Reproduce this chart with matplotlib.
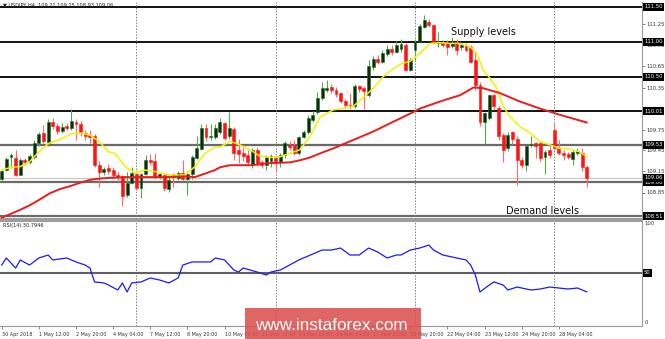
import numpy as np
import matplotlib
matplotlib.use("Agg")
import matplotlib.pyplot as plt
from matplotlib.transforms import blended_transform_factory
from matplotlib.patches import Rectangle

# ---------------- data ----------------
opens = [109.05,109.17,109.36,109.34,109.10,109.32,109.28,109.36,109.56,109.70,
         109.56,109.86,109.80,109.73,109.80,109.77,109.86,109.83,109.70,109.67,
         109.65,109.24,109.14,109.20,109.17,109.10,109.08,108.81,108.99,109.11,
         108.91,109.12,109.31,109.30,109.07,109.10,108.90,109.10,109.06,109.13,
         109.05,109.11,109.35,109.47,109.77,109.64,109.64,109.72,109.84,109.66,
         109.76,109.45,109.42,109.39,109.25,109.45,109.28,109.24,109.30,109.34,
         109.28,109.38,109.53,109.53,109.41,109.64,109.72,109.89,110.00,110.20,
         110.32,110.35,110.32,110.27,110.16,110.10,110.09,110.37,110.34,110.24,
         110.64,110.76,110.72,110.83,110.90,110.86,110.90,110.95,110.60,110.88,
         111.00,111.22,111.28,111.24,110.98,111.00,110.98,110.94,111.00,110.93,
         110.95,110.93,110.74,110.39,109.86,109.91,110.24,110.05,109.67,109.48,
         109.71,109.62,109.31,109.24,109.53,109.55,109.56,109.36,109.45,109.74,
         109.48,109.42,109.40,109.33,109.42,109.41,109.21]
highs = [109.18,109.36,109.42,109.46,109.35,109.35,109.40,109.60,109.72,109.81,
         109.90,109.91,109.84,109.84,109.84,110.04,109.90,109.87,109.75,109.74,
         109.68,109.30,109.22,109.26,109.22,109.14,109.10,109.14,109.21,109.13,
         109.13,109.39,109.40,109.41,109.13,109.13,109.10,109.13,109.16,109.31,
         109.15,109.39,109.65,109.83,109.83,109.83,109.83,109.91,109.86,110.00,
         109.78,109.62,109.50,109.45,109.48,109.50,109.32,109.38,109.40,109.37,
         109.42,109.58,109.58,109.60,109.66,109.75,109.96,110.01,110.29,110.43,
         110.45,110.40,110.36,110.29,110.19,110.27,110.40,110.39,110.37,110.74,
         110.80,110.82,110.88,110.95,110.96,111.02,111.05,110.98,110.77,111.05,
         111.26,111.39,111.33,111.26,111.14,111.03,111.03,111.07,111.05,110.98,
         110.99,110.95,110.84,110.43,110.00,110.26,110.26,110.08,109.70,109.72,
         109.73,109.65,109.36,109.53,109.66,109.57,109.57,109.45,109.55,109.84,
         109.60,109.45,109.43,109.45,109.48,109.48,109.25]
lows = [109.02,109.15,109.20,109.08,109.10,109.25,109.26,109.33,109.52,109.56,
        109.52,109.76,109.68,109.70,109.74,109.74,109.60,109.66,109.60,109.56,
        109.22,108.93,109.10,109.12,109.05,109.00,108.65,108.79,108.98,108.88,
        108.77,109.10,109.25,109.04,109.05,108.87,108.86,108.93,109.03,109.03,
        108.81,109.05,109.33,109.45,109.58,109.60,109.62,109.68,109.60,109.62,
        109.31,109.27,109.30,109.24,109.20,109.23,109.20,109.17,109.22,109.16,
        109.22,109.35,109.46,109.38,109.39,109.63,109.69,109.86,109.97,110.17,
        110.28,110.27,110.22,110.13,110.06,110.05,110.06,110.28,110.05,110.21,
        110.60,110.68,110.70,110.80,110.82,110.84,110.86,110.58,110.58,110.74,
        110.98,111.20,111.21,110.98,110.93,110.93,110.81,110.91,110.81,110.88,
        110.86,110.70,110.31,109.80,109.55,109.88,110.03,109.60,109.29,109.44,
        109.55,108.96,109.20,109.15,109.50,109.34,109.30,109.12,109.35,109.46,
        109.38,109.31,109.33,109.24,109.38,109.15,108.93]
closes = [109.15,109.33,109.38,109.10,109.32,109.29,109.37,109.56,109.68,109.58,
          109.86,109.80,109.73,109.79,109.77,109.87,109.83,109.70,109.65,109.64,
          109.24,109.14,109.18,109.16,109.10,109.07,108.80,108.98,109.13,108.91,
          109.11,109.31,109.28,109.07,109.11,108.91,109.03,109.07,109.13,109.05,
          109.12,109.36,109.49,109.77,109.64,109.66,109.77,109.86,109.63,109.77,
          109.41,109.40,109.37,109.29,109.46,109.27,109.24,109.36,109.37,109.27,
          109.39,109.55,109.50,109.41,109.64,109.72,109.91,109.96,110.20,110.34,
          110.35,110.31,110.25,110.15,110.10,110.08,110.37,110.33,110.30,110.65,
          110.76,110.72,110.84,110.90,110.86,110.96,110.97,110.60,110.74,111.00,
          111.23,111.31,111.24,110.99,111.00,110.95,110.93,110.99,110.89,110.95,
          110.89,110.72,110.39,109.86,109.98,110.24,110.08,109.65,109.46,109.67,
          109.62,109.31,109.24,109.51,109.54,109.51,109.34,109.43,109.39,109.48,
          109.41,109.38,109.36,109.43,109.44,109.22,109.06]

ma_fast_idx = [0,2,4,6,8,10,13,15,17,19,21,23,24.4,26.6,28.7,30.9,33,35.2,37.3,39.5,
               41.6,43.8,45.9,47,49.2,51.3,53.5,55.6,57.8,59.9,62.1,64.2,66.4,68.6,
               71.4,73.5,75.7,77.8,80,82.1,84.3,86.4,87.9,90.1,92.2,94.4,96.5,98.7,
               100.9,102.3,103.7,105.2,106.6,108,109.5,111.6,113.8,115.9,118.1,120.2,
               122.4,124.5,126]
ma_fast_val = [109.17,109.21,109.22,109.29,109.43,109.55,109.62,109.69,109.70,109.67,
               109.58,109.43,109.41,109.22,109.13,109.17,109.15,109.11,109.10,109.10,
               109.22,109.41,109.50,109.50,109.58,109.53,109.46,109.37,109.35,109.36,
               109.41,109.46,109.65,109.93,110.03,110.05,110.08,110.20,110.34,110.50,
               110.62,110.70,110.72,110.84,110.98,110.99,110.98,110.98,110.93,110.84,
               110.60,110.48,110.34,110.08,109.93,109.79,109.70,109.58,109.53,109.48,
               109.47,109.43,109.36]
ma_slow_idx = [0,3.9,6.1,8.2,10.4,12.6,14.7,16.9,19,21.2,23.3,26.6,30.9,35.2,39.5,41.6,
               43.8,45.9,47,49.2,53.5,57.8,62.1,64.2,66.4,68.6,71.4,75.7,80,84.3,88.7,
               90.1,94.4,98.7,101.6,103.7,107.3,111.6,115.9,120.2,126]
ma_slow_val = [108.49,108.60,108.67,108.75,108.84,108.90,108.94,108.99,109.03,109.05,
               109.06,109.07,109.07,109.07,109.08,109.07,109.12,109.17,109.21,109.24,
               109.24,109.27,109.28,109.31,109.35,109.41,109.48,109.60,109.72,109.86,
               110.00,110.05,110.15,110.24,110.35,110.34,110.27,110.15,110.05,109.96,
               109.85]

rsi_idx = [0,1,3,4,6,8,10,11,14,16,18,19,20,22,23,25,26,27,28,30,32,34,36,38,39,41,43,
           45,46,48,50,51,52,55,57,58,60,62,64,66,69,71,73,75,77,79,81,83,85,86,88,90,
           92,93,95,98,100,101,102,103,105,106,108,109,111,112,114,116,118,120,122,124,126]
rsi_val = [57.7,64.8,54.7,62.8,57.7,64.8,67.8,62.8,64.8,60.8,57.7,54.7,40.7,39.7,37.6,
           32.6,39.7,30.6,39.7,40.7,44.7,42.7,39.7,44.7,57.7,60.8,60.8,60.8,64.8,62.8,
           52.7,50.7,54.7,50.7,47.7,50.7,52.7,57.7,62.8,66.8,72.8,72.8,74.8,67.8,67.8,
           74.8,70.8,64.8,67.8,67.8,72.8,74.8,77.8,72.8,67.8,64.8,62.8,57.7,47.7,30.6,
           37.6,40.7,37.6,32.6,35.6,34.6,32.6,33.6,35.6,34.6,33.6,34.6,30.8]

levels_black = [111.50, 111.00, 110.50, 110.01]
levels_gray = [109.53, 109.00, 108.51]
bid_price = 109.06
regular_ticks = [111.25, 110.95, 110.65, 110.35, 109.75, 109.45, 109.15, 108.85]
week_sep = [29, 59, 89, 119]
xlabel_idx = [0, 8, 16, 24, 32, 40, 48, 56, 64, 72, 80, 88, 96, 104, 112, 120]
xlabel_txt = ["30 Apr 2018", "1 May 12:00", "2 May 20:00", "4 May 04:00", "7 May 12:00",
              "8 May 20:00", "10 May 04:00", "11 May 12:00", "14 May 20:00", "16 May 04:00",
              "17 May 12:00", "18 May 20:00", "22 May 04:00", "23 May 12:00", "24 May 20:00",
              "28 May 04:00"]

# ---------------- figure ----------------
W, H = 665, 339
fig = plt.figure(figsize=(W / 100, H / 100), dpi=100)
fig.patch.set_facecolor("white")

ax = fig.add_axes([0, 1 - 219 / H, 642 / W, 217 / H])
ax2 = fig.add_axes([0, 1 - 326 / H, 642 / W, 105 / H], sharex=ax)

o = np.array(opens); h = np.array(highs); l = np.array(lows); c = np.array(closes)
idx = np.arange(len(o))
bull = c >= o
bear = ~bull

for lv in levels_black:
    ax.axhline(lv, color="#111111", lw=1.4, zorder=1)
for lv in levels_gray:
    ax.axhline(lv, color="#6a6a6a", lw=1.6, zorder=1)
ax.axhline(bid_price, color="#c8c8c8", lw=0.9, zorder=1)

for ws in week_sep:
    ax.axvline(ws, color="#808080", lw=0.7, ls=(0, (1.5, 1.5)), zorder=1)
    ax2.axvline(ws, color="#808080", lw=0.7, ls=(0, (1.5, 1.5)), zorder=1)

ax.vlines(idx[bull], l[bull], h[bull], color="#4caf3a", lw=0.8, zorder=2)
ax.vlines(idx[bear], l[bear], h[bear], color="#ff6b6b", lw=0.8, zorder=2)
bh = np.abs(c - o)
bh = np.where(bh < 0.012, 0.012, bh)
bb = np.minimum(o, c)
ax.bar(idx[bull], bh[bull], bottom=bb[bull], width=0.62, color="#0f2a0f",
       edgecolor="#1f6f1f", linewidth=0.4, zorder=3)
ax.bar(idx[bear], bh[bear], bottom=bb[bear], width=0.62, color="#ff1414",
       edgecolor="#ff1414", linewidth=0.4, zorder=3)

ax.plot(ma_fast_idx, ma_fast_val, color="#f2f200", lw=1.1, zorder=4)
ax.plot(ma_slow_idx, ma_slow_val, color="#ec1c1c", lw=1.4, zorder=4)

ax.set_xlim(-0.366, 137.9)
ax.set_ylim(111.5 - (219 - 7) / 70, 111.5 + 5 / 70)

# right axis
fs = 3.8
ax.yaxis.tick_right()
ax.set_yticks(regular_ticks)
ax.set_yticklabels([f"{v:.2f}" for v in regular_ticks])
ax.tick_params(axis="y", length=2, width=0.5, color="#555555", labelsize=fs,
               labelcolor="#333333", pad=1)
ax.tick_params(axis="x", bottom=False, labelbottom=False)
tr = blended_transform_factory(ax.transAxes, ax.transData)
for lv in levels_black + levels_gray + [bid_price]:
    ax.text(1.003, lv, f"{lv:.2f}", transform=tr, fontsize=fs, color="white",
            va="center", ha="left",
            bbox=dict(boxstyle="square,pad=0.25", fc="black", ec="none"), clip_on=False)

for sp in ["top", "left"]:
    ax.spines[sp].set_visible(False)
ax.spines["right"].set_color("#9a9a9a")
ax.spines["bottom"].set_color("#8a8a8a")
ax.spines["bottom"].set_linewidth(1.2)

ax.text(451, 110.53 + 0.0, "", transform=ax.transData)  # placeholder no-op
fig.text(451 / W, 1 - 35 / H, "Supply levels", fontsize=7, color="#111111",
         family="DejaVu Sans", va="baseline", ha="left")
fig.text(506 / W, 1 - 214 / H, "Demand levels", fontsize=7, color="#111111",
         family="DejaVu Sans", va="baseline", ha="left")

# RSI panel
ax2.axhline(50, color="#606060", lw=1.5, zorder=1)
ax2.plot(rsi_idx, rsi_val, color="#1a1aff", lw=0.9, zorder=3)
ax2.set_ylim(-3.6, 102)
ax2.yaxis.tick_right()
ax2.set_yticks([100, 0])
ax2.set_yticklabels(["100", "0"])
ax2.tick_params(axis="y", length=0, labelsize=fs, labelcolor="#333333", pad=2)
tr2 = blended_transform_factory(ax2.transAxes, ax2.transData)
ax2.text(1.003, 50, "50", transform=tr2, fontsize=fs, color="white", va="center",
         ha="left", bbox=dict(boxstyle="square,pad=0.25", fc="black", ec="none"),
         clip_on=False)
ax2.set_xticks(xlabel_idx)
ax2.set_xticklabels(xlabel_txt)
for t in ax2.get_xticklabels():
    t.set_ha("left")
ax2.tick_params(axis="x", length=2.5, width=0.5, color="#555555", labelsize=3.5,
                labelcolor="#333333", pad=1.5)
ax2.spines["left"].set_visible(False)
ax2.spines["top"].set_color("#8a8a8a")
ax2.spines["top"].set_linewidth(1.2)
ax2.spines["right"].set_color("#9a9a9a")
ax2.spines["bottom"].set_color("#9a9a9a")

fig.text(3 / W, 1 - 5.5 / H, "\u25bc USDJPY,H4  109.21 109.25 108.93 109.06",
         fontsize=3.6, color="#222222", va="center", ha="left")
fig.text(3 / W, 1 - 225 / H, "RSI(14) 30.7946", fontsize=3.6, color="#222222",
         va="center", ha="left")

# watermark
fig.patches.append(Rectangle((245 / W, 0), (421 - 245) / W, (H - 308) / H,
                             transform=fig.transFigure, facecolor="#dc5050",
                             alpha=0.88, edgecolor="none", zorder=10))
fig.text(255 / W, 1 - 329.5 / H, "www.instaforex.com", fontsize=12.3,
         family="Liberation Sans", color="white", va="baseline", ha="left", zorder=11)

fig.savefig("out.png", dpi=100, facecolor="white")
